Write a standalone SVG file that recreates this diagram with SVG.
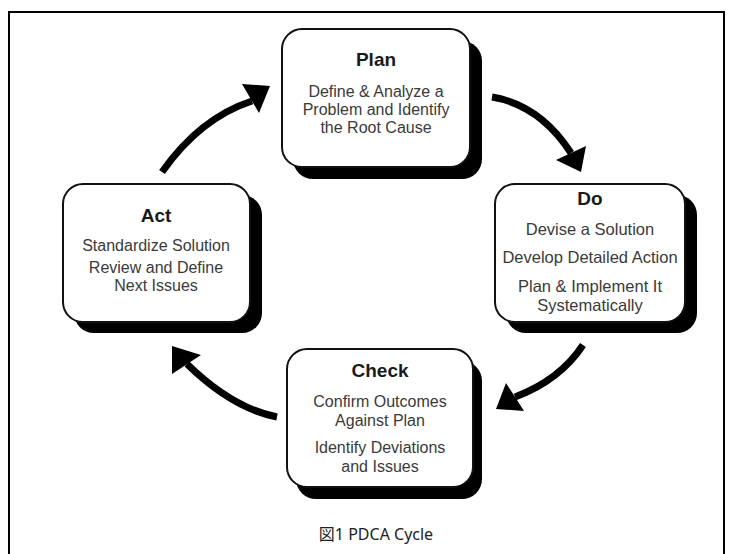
<svg xmlns="http://www.w3.org/2000/svg" width="733" height="554" viewBox="0 0 733 554">
<style>
.shadow{fill:#000}
.box{fill:#fff;stroke:#111;stroke-width:2}
.title{font-family:"Liberation Sans",Arial,sans-serif;font-weight:bold;font-size:19px;fill:#1a1a1a;text-anchor:middle}
.body{font-family:"Liberation Sans",Arial,sans-serif;font-size:16px;fill:#3a3a3a;text-anchor:middle}
.shaft{fill:none;stroke:#000;stroke-width:7}
.head{fill:#000}
.frame{fill:none;stroke:#000;stroke-width:2}
.cap{font-family:"Noto Sans","Noto Sans CJK JP",sans-serif;font-size:16px;fill:#222;text-anchor:middle}
</style>
<rect width="733" height="554" fill="#fff"/>
<path class="frame" d="M9 560 V12 H724 V560"/>

<g id="connectors">
  <path class="shaft" d="M162 172 Q200 118 252 101"/>
  <polygon class="head" points="270,86 242,84 259,113"/>
  <path class="shaft" d="M492 97 Q540 105 571 153"/>
  <polygon class="head" points="581,172 586,146 556,160"/>
  <path class="shaft" d="M583 345 Q560 380 515 397"/>
  <polygon class="head" points="496,409 506,383 524,411"/>
  <path class="shaft" d="M277 417 Q232 408 187 364"/>
  <polygon class="head" points="172,346 172,374 201,355"/>
</g>

<g id="plan">
  <rect class="shadow" x="293" y="41" width="189" height="138" rx="20"/>
  <rect class="box" x="282" y="29" width="188" height="138" rx="20"/>
  <text class="title" x="376" y="66">Plan</text>
  <text class="body" x="376" y="97">Define &amp; Analyze a</text>
  <text class="body" x="376" y="115">Problem and Identify</text>
  <text class="body" x="376" y="133">the Root Cause</text>
</g>

<g id="do">
  <rect class="shadow" x="506" y="195" width="191" height="138" rx="20"/>
  <rect class="box" x="495" y="184" width="190" height="138" rx="20"/>
  <text class="title" x="590" y="205">Do</text>
  <text class="body" x="590" y="235" style="font-size:16.5px">Devise a Solution</text>
  <text class="body" x="590" y="263" style="font-size:16.5px">Develop Detailed Action</text>
  <text class="body" x="590" y="292" style="font-size:16.5px">Plan &amp; Implement It</text>
  <text class="body" x="590" y="311" style="font-size:16.5px">Systematically</text>
</g>

<g id="act">
  <rect class="shadow" x="74" y="195" width="188" height="138" rx="20"/>
  <rect class="box" x="63" y="184" width="187" height="138" rx="20"/>
  <text class="title" x="156" y="222">Act</text>
  <text class="body" x="156" y="251">Standardize Solution</text>
  <text class="body" x="156" y="273">Review and Define</text>
  <text class="body" x="156" y="291">Next Issues</text>
</g>

<g id="check">
  <rect class="shadow" x="296" y="361" width="186" height="138" rx="20"/>
  <rect class="box" x="287" y="349" width="186" height="138" rx="20"/>
  <text class="title" x="380" y="377">Check</text>
  <text class="body" x="380" y="407">Confirm Outcomes</text>
  <text class="body" x="380" y="426">Against Plan</text>
  <text class="body" x="380" y="453">Identify Deviations</text>
  <text class="body" x="380" y="472">and Issues</text>
</g>

<text class="cap" x="376" y="540">図1 PDCA Cycle</text>
</svg>
